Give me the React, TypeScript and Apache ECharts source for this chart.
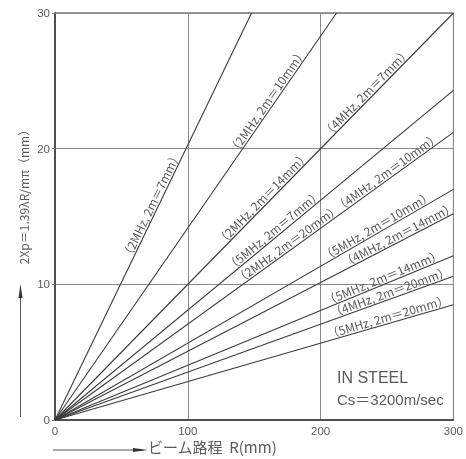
import React, { useEffect, useRef } from "react";
import * as echarts from "echarts";

// Beam-spread lines: each starts at the origin and ends at (endR, endV)
const lineEndR = [148, 212, 300, 300, 300, 300, 300, 300, 300, 300];
const lineEndV = [30, 30, 30, 24.3, 21.2, 17.0, 15.2, 12.1, 10.6, 8.5];

// Labels written along the lines: text, which line, and where (R) along it
const labelTexts = [
  "（2MHz, 2m＝7mm）",
  "（2MHz, 2m＝10mm）",
  "（4MHz, 2m＝7mm）",
  "（2MHz, 2m＝14mm）",
  "（5MHz, 2m＝7mm）",
  "（2MHz, 2m＝20mm）",
  "（4MHz, 2m＝10mm）",
  "（5MHz, 2m＝10mm）",
  "（4MHz, 2m＝14mm）",
  "（5MHz, 2m＝14mm）",
  "（4MHz, 2m＝20mm）",
  "（5MHz, 2m＝20mm）",
];
const labelLine = [0, 1, 2, 2, 3, 4, 4, 5, 6, 7, 8, 9];
const labelAtR = [77, 164, 238, 160, 168, 178, 253, 245, 261, 249, 254, 252];

const xTicks = [0, 100, 200, 300];
const yTicks = [0, 10, 20, 30];

const INK = "#3a3a3a";
const TEXT = "#5a5a5a";
const FONT = "'Noto Sans CJK JP', 'Noto Sans', sans-serif";

export default function App() {
  const ref = useRef<HTMLDivElement>(null);

  useEffect(() => {
    if (!ref.current) return;
    const chart = echarts.init(ref.current, null, { renderer: "svg" });

    const lineSeries = lineEndR.map((r, i) => ({
      type: "line",
      data: [
        [0, 0],
        [r, lineEndV[i]],
      ],
      symbol: "none",
      silent: true,
      lineStyle: { color: INK, width: 1.1 },
      z: 3,
    }));

    // label anchor points lie on their line
    const labelData = labelAtR.map((r, k) => {
      const li = labelLine[k];
      return [r, (lineEndV[li] / lineEndR[li]) * r];
    });

    const labelSeries = {
      type: "custom",
      data: labelData,
      clip: false,
      silent: true,
      z: 4,
      renderItem: (params: any, api: any) => {
        const p = api.coord([api.value(0), api.value(1)]);
        const o = api.coord([0, 0]);
        const ang = Math.atan2(o[1] - p[1], p[0] - o[0]);
        const off = 7.5;
        return {
          type: "text",
          x: p[0] - Math.sin(ang) * off,
          y: p[1] - Math.cos(ang) * off,
          rotation: ang,
          style: {
            text: labelTexts[params.dataIndex],
            fill: TEXT,
            font: `12px ${FONT}`,
            align: "center",
            verticalAlign: "middle",
          },
        };
      },
    };

    chart.setOption({
      animation: false,
      grid: {
        left: 55,
        right: 11,
        top: 13,
        bottom: 39,
        show: true,
        borderColor: INK,
        borderWidth: 1,
      },
      xAxis: {
        type: "value",
        min: xTicks[0],
        max: xTicks[xTicks.length - 1],
        interval: 100,
        axisLine: { show: true, lineStyle: { color: INK, width: 1.5 } },
        axisTick: { show: false },
        axisLabel: {
          color: TEXT,
          fontSize: 11.5,
          fontFamily: "'Liberation Sans', sans-serif",
          margin: 5,
        },
        splitLine: { show: true, lineStyle: { color: "#8a8a8a", width: 1 } },
      },
      yAxis: {
        type: "value",
        min: yTicks[0],
        max: yTicks[yTicks.length - 1],
        interval: 10,
        axisLine: { show: true, lineStyle: { color: INK, width: 1.5 } },
        axisTick: { show: true, length: 3, lineStyle: { color: "#8a8a8a" } },
        axisLabel: {
          color: TEXT,
          fontSize: 11.5,
          fontFamily: "'Liberation Sans', sans-serif",
          margin: 5,
        },
        splitLine: { show: true, lineStyle: { color: "#8a8a8a", width: 1 } },
      },
      graphic: [
        // vertical axis title with its arrow
        {
          type: "text",
          x: 23,
          y: 194,
          rotation: Math.PI / 2,
          style: {
            text: "2Xp＝1.39λR/mπ（mm）",
            fill: TEXT,
            font: `12px ${FONT}`,
            align: "center",
            verticalAlign: "middle",
          },
        },
        {
          type: "line",
          shape: { x1: 20.5, y1: 417, x2: 20.5, y2: 292 },
          style: { stroke: "#555", lineWidth: 1 },
        },
        {
          type: "polygon",
          shape: {
            points: [
              [20.5, 284],
              [22.5, 298],
              [18.5, 298],
            ],
          },
          style: { fill: "#333" },
        },
        // horizontal axis title with its arrow
        {
          type: "line",
          shape: { x1: 53, y1: 450, x2: 138, y2: 450 },
          style: { stroke: "#555", lineWidth: 1 },
        },
        {
          type: "polygon",
          shape: {
            points: [
              [148, 450],
              [133, 448],
              [133, 452],
            ],
          },
          style: { fill: "#333" },
        },
        {
          type: "text",
          x: 148,
          y: 446,
          style: {
            text: "ビーム路程  R(mm)",
            fill: TEXT,
            font: `15px ${FONT}`,
            align: "left",
            verticalAlign: "middle",
          },
        },
        // medium note
        {
          type: "text",
          x: 337,
          y: 377,
          style: {
            text: "IN STEEL",
            fill: TEXT,
            font: `16px 'Liberation Sans', sans-serif`,
            align: "left",
            verticalAlign: "middle",
          },
        },
        {
          type: "text",
          x: 337,
          y: 399,
          style: {
            text: "Cs＝3200m/sec",
            fill: TEXT,
            font: `15px 'Liberation Sans', 'Noto Sans CJK JP', sans-serif`,
            align: "left",
            verticalAlign: "middle",
          },
        },
      ],
      series: [...lineSeries, labelSeries],
    });

    return () => chart.dispose();
  }, []);

  return (
    <div
      ref={ref}
      style={{ position: "fixed", left: 0, top: 0, width: 466, height: 459 }}
    />
  );
}
